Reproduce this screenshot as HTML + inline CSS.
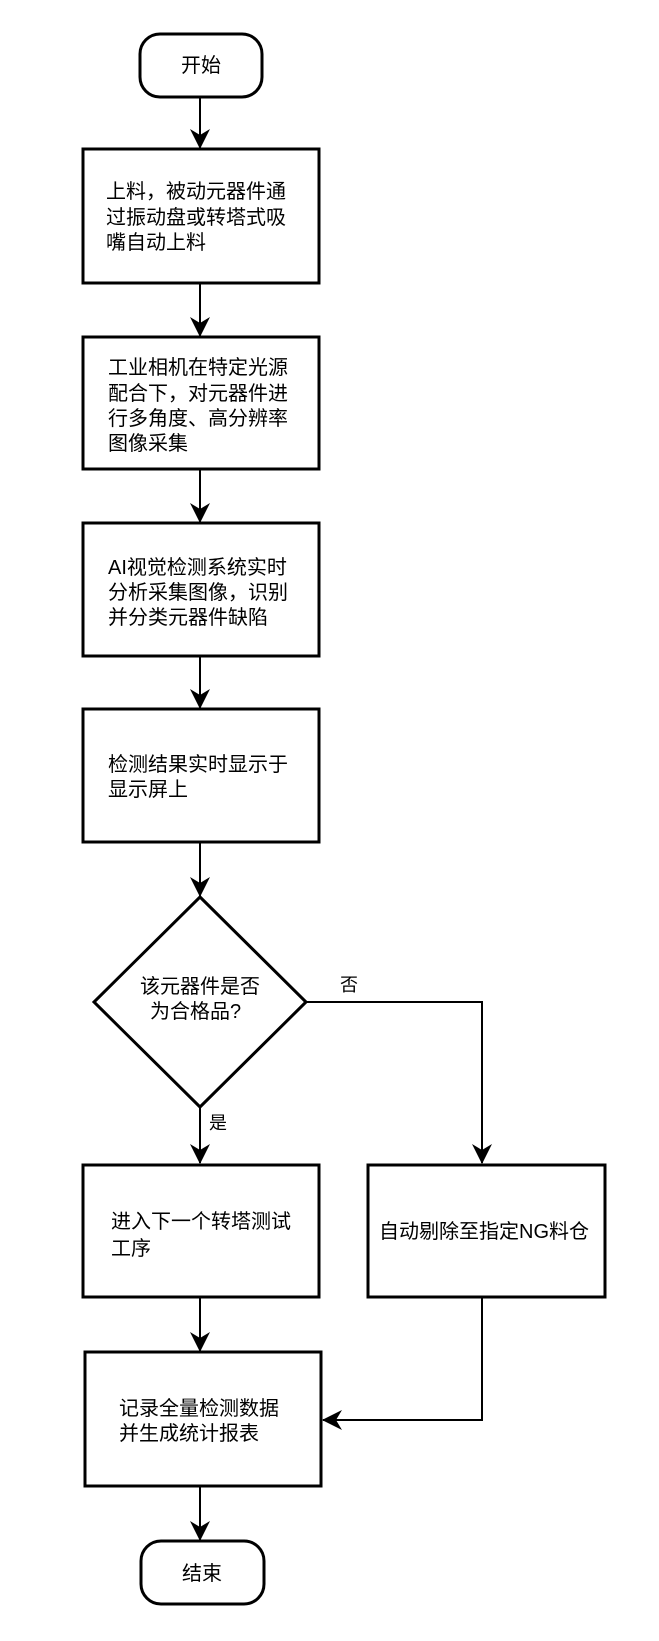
<!DOCTYPE html>
<html><head><meta charset="utf-8"><style>
html,body{margin:0;padding:0;background:#fff;}
svg{display:block;}
text{font-family:"Liberation Sans","Noto Sans CJK SC",sans-serif;font-size:20px;fill:#000;}
</style></head><body>
<svg width="659" height="1641" viewBox="0 0 659 1641" xmlns="http://www.w3.org/2000/svg">
<defs>
<marker id="a" markerWidth="20" markerHeight="20" viewBox="0 0 20 20" refX="19" refY="10" orient="auto" markerUnits="userSpaceOnUse">
<path d="M0,0 L20,10 L0,20 L6,10 Z" fill="#000"/>
</marker>
</defs>
<g fill="none" stroke="#000" stroke-width="2">
<line x1="200" y1="97" x2="200" y2="148" marker-end="url(#a)"/>
<line x1="200" y1="283" x2="200" y2="336" marker-end="url(#a)"/>
<line x1="200" y1="469" x2="200" y2="522" marker-end="url(#a)"/>
<line x1="200" y1="656" x2="200" y2="708" marker-end="url(#a)"/>
<line x1="200" y1="842" x2="200" y2="896" marker-end="url(#a)"/>
<line x1="200" y1="1107" x2="200" y2="1163" marker-end="url(#a)"/>
<polyline points="306,1002 482,1002 482,1163" marker-end="url(#a)"/>
<line x1="200" y1="1297" x2="200" y2="1351" marker-end="url(#a)"/>
<polyline points="482,1297 482,1420 323,1420" marker-end="url(#a)"/>
<line x1="200" y1="1486" x2="200" y2="1540" marker-end="url(#a)"/>
</g>
<g fill="#fff" stroke="#000" stroke-width="3">
<rect x="140" y="34" width="122" height="63" rx="20"/>
<rect x="83" y="149" width="236" height="134"/>
<rect x="83" y="337" width="236" height="132"/>
<rect x="83" y="523" width="236" height="133"/>
<rect x="83" y="709" width="236" height="133"/>
<polygon points="200,897 306,1002 200,1107 94,1002"/>
<rect x="83" y="1165" width="236" height="132"/>
<rect x="368" y="1165" width="237" height="132"/>
<rect x="85" y="1352" width="236" height="134"/>
<rect x="141" y="1541" width="123" height="63" rx="20"/>
</g>
<text x="201" y="72" text-anchor="middle">开始</text>
<text x="106" y="198">上料，被动元器件通</text>
<text x="106" y="224">过振动盘或转塔式吸</text>
<text x="106" y="249">嘴自动上料</text>
<text x="108" y="374">工业相机在特定光源</text>
<text x="108" y="400">配合下，对元器件进</text>
<text x="108" y="425">行多角度、高分辨率</text>
<text x="108" y="450">图像采集</text>
<text x="108" y="574">AI视觉检测系统实时</text>
<text x="108" y="599">分析采集图像，识别</text>
<text x="108" y="624">并分类元器件缺陷</text>
<text x="108" y="771">检测结果实时显示于</text>
<text x="108" y="796">显示屏上</text>
<text x="140" y="993">该元器件是否</text>
<text x="150" y="1018">为合格品?</text>
<text x="349" y="991" text-anchor="middle" style="font-size:18px">否</text>
<text x="218" y="1129" text-anchor="middle" style="font-size:18px">是</text>
<text x="111" y="1228">进入下一个转塔测试</text>
<text x="111" y="1255">工序</text>
<text x="379" y="1238">自动剔除至指定NG料仓</text>
<text x="119" y="1415">记录全量检测数据</text>
<text x="119" y="1440">并生成统计报表</text>
<text x="202" y="1580" text-anchor="middle">结束</text>
</svg>
</body></html>
